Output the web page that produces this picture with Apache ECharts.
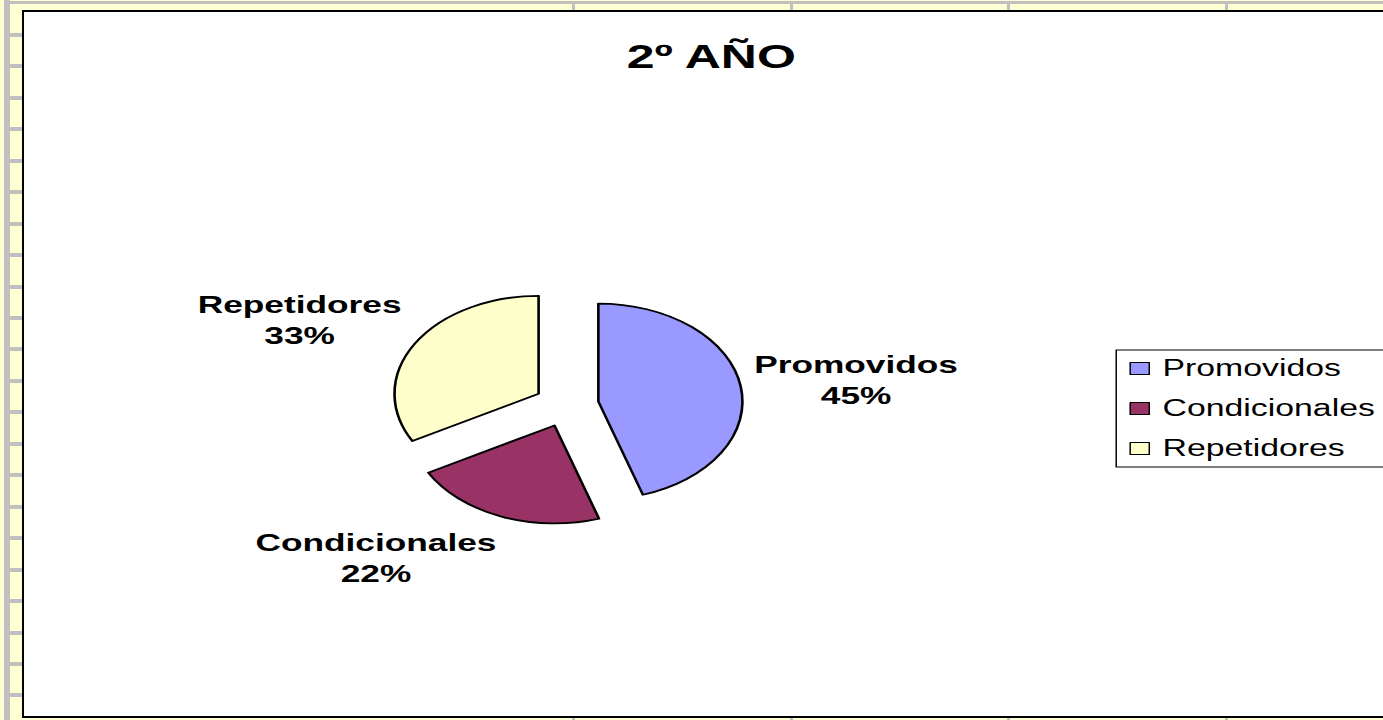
<!DOCTYPE html>
<html>
<head>
<meta charset="utf-8">
<title>2º AÑO</title>
<script src="https://cdn.jsdelivr.net/npm/echarts@6/dist/echarts.min.js"></script>
<style>
  html, body { margin: 0; padding: 0; width: 1383px; height: 720px; overflow: hidden; background: #ffffd4; position: relative; }
  .g { position: absolute; background: #c0c0c0; }
  #frame { position: absolute; left: 22px; top: 10px; width: 1400px; height: 704px; border: 2px solid #000; background: #fff; overflow: hidden; }
  /* the original picture is stretched sideways, so the chart is too */
  #chart { position: absolute; left: 0; top: 0; width: 935px; height: 704px; transform: scaleX(1.47); transform-origin: 0 0; }
</style>
</head>
<body>
<div id="frame"><div id="chart"></div></div>
<script>
const titleText = '2º AÑO'
const categories = ['Promovidos', 'Condicionales', 'Repetidores']
const shares = [45, 22, 33]
const sliceColors = ['#9999FF', '#993366', '#FFFFCC']

// hidden label-line lengths that push each data label where Excel put it
const labelReach = [[40, 34], [44.5, 64], [47.4, 32.4]]

// spreadsheet grid behind the chart
const rowLineStart = 33
const rowPitch = 31.45
const colLineX = [572, 790, 1007, 1225]

function bar (x, y, w, h) {
  const d = document.createElement('div')
  d.className = 'g'
  d.style.cssText = 'left:' + x + 'px;top:' + y + 'px;width:' + w + 'px;height:' + h + 'px'
  document.body.insertBefore(d, document.getElementById('frame'))
}
bar(4, 0, 6, 720)
bar(4, 1, 1379, 3)
for (let y = rowLineStart; y < 720; y += rowPitch) bar(10, Math.round(y), 12, 4)
colLineX.forEach((x) => { bar(x, 4, 3, 6); bar(x, 716, 3, 4) })

const font = 'Liberation Sans, Arial, sans-serif'
const myChart = echarts.init(document.getElementById('chart'), null, { renderer: 'svg' })
myChart.setOption({
  animation: false,
  title: {
    text: titleText,
    left: 'center',
    top: 22,
    textStyle: { fontFamily: font, fontSize: 34, fontWeight: 'bold', color: '#000' }
  },
  legend: {
    orient: 'vertical',
    left: 743,
    top: 338,
    itemWidth: 13,
    itemHeight: 12,
    itemGap: 17,
    padding: [7, 14, 7, 9],
    borderColor: '#000',
    borderWidth: 1,
    backgroundColor: '#fff',
    icon: 'rect',
    selectedMode: false,
    itemStyle: { borderColor: '#000', borderWidth: 1 },
    textStyle: { fontFamily: font, fontSize: 23, color: '#000', padding: [0, 0, 0, 4] },
    data: categories
  },
  series: [{
    type: 'pie',
    center: [369, 393],
    radius: 98,
    startAngle: 90,
    clockwise: true,
    selectedMode: 'multiple',
    selectedOffset: 22,
    avoidLabelOverlap: false,
    itemStyle: { borderColor: '#000', borderWidth: 1.8 },
    label: {
      show: true,
      position: 'outside',
      formatter: (p) => p.name + '\n' + Math.round(p.percent) + '%',
      fontFamily: font,
      fontWeight: 'bold',
      fontSize: 24,
      lineHeight: 31,
      color: '#000',
      align: 'center'
    },
    labelLine: { show: false },
    labelLayout: () => ({ align: 'center', verticalAlign: 'middle' }),
    emphasis: { disabled: true },
    data: categories.map((name, i) => ({
      name: name,
      value: shares[i],
      selected: true,
      itemStyle: { color: sliceColors[i] },
      labelLine: { show: false, length: labelReach[i][0], length2: labelReach[i][1] }
    }))
  }]
})
</script>
</body>
</html>
